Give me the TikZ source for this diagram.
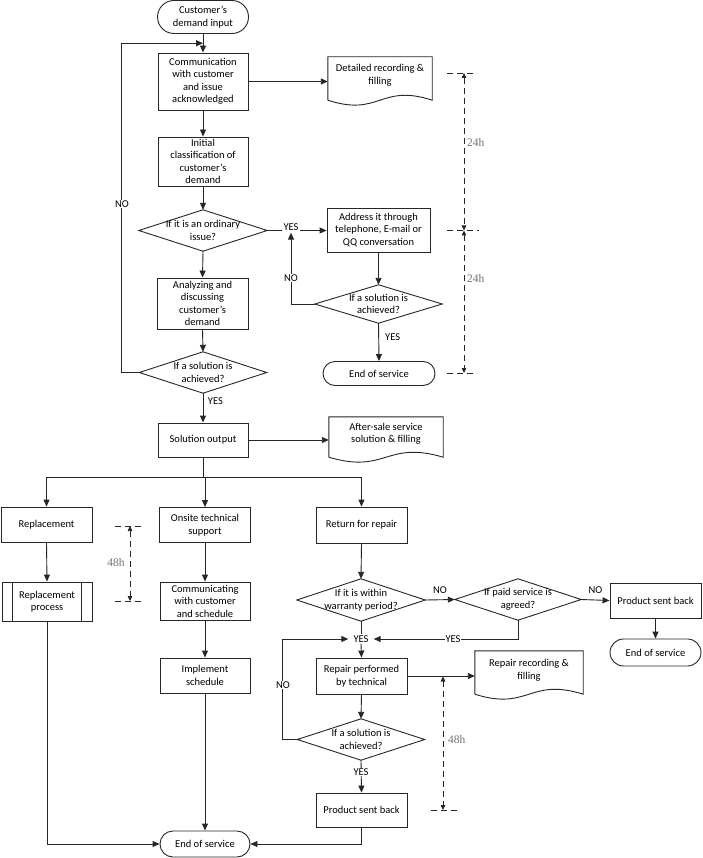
\documentclass[tikz,border=0pt]{standalone}
\usepackage{fontspec}
\setmainfont{Carlito}
\newfontfamily\dimfont{Liberation Serif}
\usetikzlibrary{arrows.meta,shapes.misc,calc}
\newcommand\docshape[2]{%
  \draw[ln] ($(#1.south west)+(0,#2)$) -- (#1.north west) -- (#1.north east) -- ($(#1.south east)+(0,#2)$)
    .. controls ($(#1.south)+(0,#2-17)$) and ($(#1.south)+(0,#2+17)$) .. ($(#1.south west)+(0,#2)$);}
\newcommand\preshape[1]{%
  \draw[ln] ($(#1.north west)+(11,0)$) -- ($(#1.south west)+(11,0)$)
            ($(#1.north east)+(-11,0)$) -- ($(#1.south east)+(-11,0)$);}
\begin{document}
\begin{tikzpicture}[x=1pt,y=-1pt,
  every node/.style={font=\fontsize{10.5}{12.5}\selectfont, align=center, inner sep=0pt},
  ln/.style={draw=black!85, line width=0.9pt},
  box/.style={rectangle, draw=black!85, line width=0.9pt},
  term/.style={rounded rectangle, draw=black!85, line width=0.9pt},
  dia/.style={rectangle, append after command={\pgfextra{\draw[ln] (\tikzlastnode.north)--(\tikzlastnode.east)--(\tikzlastnode.south)--(\tikzlastnode.west)--cycle;}}},
  arr/.style={ln, -{Triangle[length=7pt,width=6pt]}},
  lbl/.style={fill=white, inner sep=1pt},
  dim/.style={draw=black!85, line width=0.75pt, dash pattern=on 6pt off 4pt},
  dimarr/.style={dim, {Triangle[length=5pt,width=4.5pt]}-{Triangle[length=5pt,width=4.5pt]}},
  dimlbl/.style={font={\dimfont\fontsize{11.5}{12}\selectfont}, text=black!55},
]
\fill[white] (0,0) rectangle (702,858);
\useasboundingbox (0,0) rectangle (702,858);

% ---------- nodes ----------
\node[term, minimum width=91, minimum height=33] (t1) at (203,17) {Customer's\\demand input};
\node[box, minimum width=90, minimum height=57] (b1) at (203,81.5) {Communication\\with customer\\and issue\\acknowledged};
\node[minimum width=104, minimum height=37] (d1) at (380,75.5) {Detailed recording \&\\filling};
\docshape{d1}{6}
\node[box, minimum width=90, minimum height=49] (b2) at (203,161.5) {Initial\\classification of\\customer's\\demand};
\node[dia, minimum width=128, minimum height=41] (q1) at (203,230.5) {If it is an ordinary\\issue?};
\node[box, minimum width=103, minimum height=44] (b3) at (378.5,230) {Address it through\\telephone, E-mail or\\QQ conversation};
\node[dia, minimum width=127, minimum height=38] (q2) at (378.5,304) {If a solution is\\achieved?};
\node[term, minimum width=112, minimum height=24] (t2) at (379,373.5) {End of service};
\node[box, minimum width=91, minimum height=51] (b4) at (202.5,303.5) {Analyzing and\\discussing\\customer's\\demand};
\node[dia, minimum width=127, minimum height=41] (q3) at (203,372.5) {If a solution is\\achieved?};
\node[box, minimum width=90, minimum height=34] (b5) at (203,440) {Solution output};
\node[minimum width=114, minimum height=34] (d2) at (386,434) {After-sale service\\solution \& filling};
\docshape{d2}{6}
\coordinate (split) at (203,477);
\node[box, minimum width=91, minimum height=35] (b6) at (46.5,524.5) {Replacement};
\node[box, minimum width=91, minimum height=35] (b7) at (205,525) {Onsite technical\\support};
\node[box, minimum width=91, minimum height=36] (b8) at (361.5,525) {Return for repair};
\node[box, minimum width=90, minimum height=39] (p1) at (47,601.5) {Replacement\\process};
\preshape{p1}
\node[box, minimum width=90, minimum height=38] (b9) at (205,601) {Communicating\\with customer\\and schedule};
\node[dia, minimum width=128, minimum height=42] (q4) at (361,600) {If it is within\\warranty period?};
\node[dia, minimum width=126, minimum height=41] (q5) at (518,599.5) {If paid service is\\agreed?};
\node[box, minimum width=91, minimum height=35] (b10) at (655.5,600.5) {Product sent back};
\node[term, minimum width=91, minimum height=27] (t3) at (655.5,652.5) {End of service};
\node[lbl, inner xsep=5pt] (y1) at (361,639) {YES};
\node[box, minimum width=91, minimum height=36] (b11) at (361.5,676) {Repair performed\\by technical};
\node[minimum width=108, minimum height=38] (d3) at (529,670) {Repair recording \&\\filling};
\docshape{d3}{5}
\node[box, minimum width=90, minimum height=35] (b12) at (205,675.5) {Implement\\schedule};
\node[dia, minimum width=127, minimum height=41] (q6) at (361,739.5) {If a solution is\\achieved?};
\node[box, minimum width=91, minimum height=34] (b13) at (361.5,810) {Product sent back};
\node[term, minimum width=90, minimum height=26] (t4) at (205,844) {End of service};

% ---------- connectors ----------
\coordinate (j1) at ($(t1.south)!0.5!(b1.north)$);
\draw[arr] (t1.south) -- (b1.north);
\draw[arr] (q3.west) -- ++(-17.5,0) |- (j1);
\node[lbl] (n1) at (122,204) {NO};
\draw[arr] (b1.east) -- (b1.east -| d1.west);
\draw[arr] (b1.south) -- (b2.north);
\draw[arr] (b2.south) -- (q1.north);
\draw[arr] (q1.east) -- (q1.east -| b3.west);
\node[lbl, inner sep=2pt] (y2) at (291,227) {YES};
\draw[arr] (q2.west) -| (y2.south);
\node[lbl] (n2) at (291,278) {NO};
\draw[arr] (b3.south) -- (q2.north);
\draw[arr] (q2.south) -- node[right=6pt, pos=0.36] (ly3) {YES} (t2.north);
\draw[arr] (q1.south) -- (b4.north);
\draw[arr] (b4.south) -- (q3.north);
\draw[arr] (q3.south) -- node[right=4.5pt, pos=0.27] (ly4) {YES} (b5.north);
\draw[arr] (b5.east) -- (b5.east -| d2.west);
\draw[ln] (b5.south) -- (split);
\draw[ln] (split -| b6.north) -- (split -| b8.north);
\draw[arr] (split -| b6.north) -- (b6.north);
\draw[arr] (split -| b7.north) -- (b7.north);
\draw[arr] (split -| b8.north) -- (b8.north);
\draw[arr] (b6.south) -- (p1.north);
\draw[arr] (b7.south) -- (b9.north);
\draw[arr] (b9.south) -- (b12.north);
\draw[arr] (b12.south) -- (t4.north);
\draw[arr] (p1.south) |- (t4.west);
\draw[arr] (b8.south) -- (q4.north);
\draw[arr] (q4.east) -- node[above=6pt] (ln3) {NO} (q5.west);
\draw[arr] (q5.east) -- node[above=6pt] (ln4) {NO} (b10.west);
\draw[arr] (b10.south) -- (t3.north);
\draw[ln] (q4.south) -- (y1.north);
\draw[arr] (q5.south) |- (y1.east);
\node[lbl] (y3) at (453,639) {YES};
\draw[arr] (y1.south) -- (b11.north);
\draw[arr] (q6.west) -- ++(-14.5,0) |- (y1.west);
\node[lbl] (n3) at (283,685) {NO};
\draw[arr] (b11.south) -- (q6.north);
\draw[arr] (b11.east) -- (b11.east -| d3.west);
\draw[arr] (q6.south) -- (b13.north);
\node[lbl] (y4) at (361,772) {YES};
\draw[arr] (b13.south) |- (t4.east);

% ---------- time dimensions ----------
\coordinate (dA) at (464,73);
\coordinate (dB) at (464,230.5);
\coordinate (dC) at (464,373);
\draw[dim] ($(dA)+(-17,0)$) -- ($(dA)+(13,0)$);
\draw[dim] ($(dB)+(-17,0)$) -- ($(dB)+(15,0)$);
\draw[dim] ($(dC)+(-17,0)$) -- ($(dC)+(13,0)$);
\draw[dimarr] (dA) -- (dB);
\draw[dimarr] (dB) -- (dC);
\node[dimlbl, anchor=west] (h1) at (467,143) {24h};
\node[dimlbl, anchor=west] (h2) at (467,279) {24h};

\coordinate (dD) at (130,526);
\coordinate (dE) at (130,601);
\draw[dim] ($(dD)+(-15,0)$) -- ($(dD)+(14,0)$);
\draw[dim] ($(dE)+(-15,0)$) -- ($(dE)+(14,0)$);
\draw[dimarr] (dD) -- (dE);
\node[dimlbl] (h3) at (116,563) {48h};

\coordinate (dF) at (443,676.5);
\coordinate (dG) at (443,810);
\draw[dim] ($(dG)+(-12,0)$) -- ($(dG)+(16,0)$);
\draw[dimarr] (dF) -- (dG);
\node[dimlbl, anchor=west] (h4) at (448,740) {48h};
\end{tikzpicture}
\end{document}
